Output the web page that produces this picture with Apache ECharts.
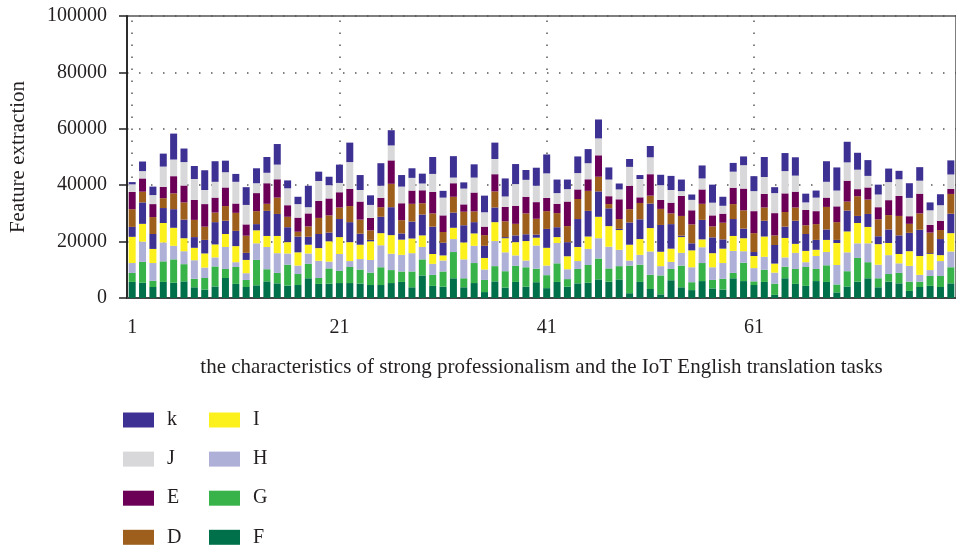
<!DOCTYPE html>
<html>
<head>
<meta charset="utf-8">
<script src="https://cdn.jsdelivr.net/npm/echarts@6/dist/echarts.min.js"></script>
<style>
html,body{margin:0;padding:0;background:#fff;}
#chart{width:956px;height:548px;}
</style>
</head>
<body>
<div id="chart"></div>
<script>
// categories 1..80
const categories = Array.from({length: 80}, (_, i) => String(i + 1));
const vLineIdx = [0, 20, 40, 60];

// stacked segments, bottom to top
const F = [5700,5400,3900,5700,5400,5900,3800,3000,4100,7100, 5000,3900,4500,5900,5200,4400,4600,7000,5000,5100,
           5300,5300,5100,4600,4600,5300,5700,3800,8000,4300, 4000,7000,3800,5300,2100,5900,3700,5700,4000,5600,
           3500,5700,4000,5200,5400,6600,5800,6600,1700,5700, 3200,1300,6300,3800,2800,6000,3400,3000,7000,6000,
           4600,5700,1100,7000,5000,4300,6000,5700,2000,4100, 5800,7000,3800,5800,5200,2500,3900,4300,3900,5200];
const G = [3200,7400,2200,7300,8300,6100,3000,4100,7100,3200, 6000,2500,9000,4300,3700,7400,3900,5100,2100,5400,
           4300,5700,5000,4400,6300,4600,3700,5600,5700,3900, 5400,9300,3200,7100,4300,5400,5800,5700,6900,4800,
           4600,6600,2700,5100,6300,7400,4700,4700,9800,6100, 5000,6700,4000,7700,2800,6400,3000,3800,1900,6500,
           1300,4300,4000,4100,5300,6700,4300,5900,2800,5400, 8400,5700,3200,2700,3700,3300,1900,3500,3900,5700];
const H = [3500,7200,6300,6700,4800,4600,6600,3700,3200,7800, 1700,2400,5900,7900,7000,4000,3000,3700,6100,2400,
           6000,2100,3700,4500,7800,5800,5900,6500,4400,3900, 3900,4600,6700,6100,3700,8900,6700,3700,2400,8200,
           3400,7200,3500,2800,5700,7200,7700,5800,1800,3500, 8300,3300,2500,4500,5300,5600,4500,5600,7800,4100,
           4700,4600,3900,3300,5700,1700,4600,4700,6900,6700, 5200,6700,4800,6700,3400,5600,2400,2100,5300,5600];
const I = [9300,6300,5000,6900,6400,4600,4400,5000,4600,4600, 5700,4700,4600,3900,6100,4000,4700,3100,4500,7200,
           6000,6700,5100,6600,4300,6600,5400,5200,4100,3500, 1800,4000,6000,4400,4100,6700,5000,4700,6900,2800,
           6300,2100,4600,5000,4400,7600,7300,7000,5600,5600, 8300,5100,4700,5600,6000,2800,5000,5100,5300,4600,
           4300,7200,3200,6900,3200,4000,2200,4300,7800,7400, 7200,5800,7300,4300,3300,5200,6700,5700,2100,6500];
const K2 = [3500,7600,5300,5300,6600,6600,3800,4800,7900,4700, 5400,2500,2200,8900,7800,5300,5600,2800,5000,3100,
            6400,7100,3900,500,5800,9900,2200,6000,7400,9700, 4500,5400,6100,4000,4300,5200,400,2400,2400,1100,
            6700,3500,5000,9900,9100,9000,6300,400,7900,7000, 8700,9500,8700,500,2500,6900,5600,3300,6000,3400,
            1400,5600,6600,4000,8200,6000,3500,3700,1100,7400, 2500,4600,2800,4800,6600,6500,9300,300,5700,6900];
const D = [6300,3800,6000,3500,5600,6100,6100,4700,3400,5200, 6400,6100,4600,2500,5800,3700,1700,3700,5700,6100,
           4100,5700,5000,3400,3400,8300,4700,6300,4000,4700, 3800,5600,4800,3800,3800,5700,5600,4100,7400,5600,
           6300,5000,5700,7100,7100,5200,1500,3500,4700,5800, 2800,5700,3800,7000,6700,5700,3900,5900,5300,6500,
           6700,4700,3400,5200,4700,3100,5600,8000,6300,3200, 7000,5100,6000,5100,6900,3200,5800,7300,3200,7000];
const E = [6100,4700,4600,4000,6100,6000,7100,8000,5300,6600, 3300,4000,6400,7300,6500,4100,5000,4600,6000,6000,
           5400,6100,6400,4400,3300,8300,6000,4700,4600,7600, 5900,4800,2600,6700,3000,6100,5100,6400,5900,5900,
           4700,3300,8700,3400,4100,7600,2800,7000,8300,2000, 7600,3200,3800,7100,5000,5100,3900,3200,5800,7700,
           7800,4800,7900,6600,5600,5400,4600,3300,5600,7400, 2500,4300,4300,5300,7100,2700,7000,2700,3200,1800];
const J = [2700,2600,3200,7200,5900,8300,7400,5000,5600,5400, 7700,6900,3500,3700,5200,6000,4800,2200,7100,4700,
           3300,9500,4100,4600,4300,5300,5900,4500,2400,6400, 6300,2000,5600,5300,5100,5400,3700,7700,6000,5800,
           8700,3800,4400,5800,5700,6000,5900,3500,6700,6500, 6000,5200,4500,1700,3700,3900,4500,2800,5700,8300,
           7100,6000,7100,7900,5700,2700,4800,5600,5600,6500, 6900,4100,4500,6400,5900,6500,4600,5200,5600,5100];
const k = [800,3400,3000,4600,9200,4800,4600,7000,7300,4100, 2800,6300,5300,5600,7300,2800,2600,7600,3300,3000,
           6500,6900,5300,3400,8000,5400,4100,3400,3500,6000, 2400,7600,2200,4700,5900,5800,6400,7100,3500,6400,
           6700,4800,3400,5900,5000,6700,4300,2100,2800,1400, 4000,3700,5000,4100,1900,4600,6400,3200,3100,3100,
           5300,7100,2100,6400,6500,3100,2500,7300,8200,7300, 6000,5600,3500,4800,3000,5200,4800,2800,3900,5000];

const seriesDefs = [
  {name: 'F', data: F, color: '#00704a'},
  {name: 'G', data: G, color: '#37b34a'},
  {name: 'H', data: H, color: '#aeb0d8'},
  {name: 'I', data: I, color: '#fcf01d'},
  {name: 'K2', data: K2, color: '#3d3193'},
  {name: 'D', data: D, color: '#9e5f1d'},
  {name: 'E', data: E, color: '#6b0056'},
  {name: 'J', data: J, color: '#d8d8da'},
  {name: 'k', data: k, color: '#3d3193'}
];

const FONT = 'Liberation Serif';
const TXT = '#231f20';

const series = seriesDefs.map((s, idx) => ({
  name: s.name,
  type: 'bar',
  stack: 'total',
  data: s.data,
  barWidth: 7,
  itemStyle: {color: s.color},
  emphasis: {disabled: true},
  markLine: idx === 0 ? {
    silent: true,
    symbol: 'none',
    z: 1,
    label: {show: false},
    lineStyle: {type: [1.5, 10.5], color: '#555', width: 1.5},
    data: vLineIdx.map(v => ({xAxis: v}))
  } : undefined
}));

const legendText = {fontFamily: FONT, fontSize: 20, color: TXT, padding: [0, 0, 0, 8], lineHeight: 15};
const legendBase = {orient: 'vertical', top: 410, height: 200, padding: 0, itemWidth: 31, itemHeight: 15,
                    itemGap: 19.1, icon: 'rect', textStyle: legendText, selectedMode: false};

const chart = echarts.init(document.getElementById('chart'), null, {renderer: 'canvas'});
chart.setOption({
  animation: false,
  backgroundColor: '#fff',
  grid: {left: 125, top: 16, width: 834, bottom: 250, show: true, borderColor: '#555', borderWidth: 1.5, backgroundColor: 'transparent'},
  legend: [
    Object.assign({left: 123, data: ['k', 'J', 'E', 'D']}, legendBase),
    Object.assign({left: 209, data: ['I', 'H', 'G', 'F']}, legendBase)
  ],
  xAxis: {
    type: 'category',
    data: categories,
    name: 'the characteristics of strong professionalism and the IoT English translation tasks',
    nameLocation: 'middle',
    nameGap: 59,
    nameTextStyle: {fontFamily: FONT, fontSize: 21, color: TXT},
    axisLine: {lineStyle: {color: '#444', width: 2}},
    axisTick: {alignWithLabel: true, interval: (i) => i % 20 === 0, length: 6, lineStyle: {color: '#222', width: 1.5}},
    axisLabel: {interval: (i) => i % 20 === 0, margin: 20, fontFamily: FONT, fontSize: 20, color: TXT},
    splitLine: {show: false}
  },
  yAxis: {
    type: 'value',
    min: 0, max: 100000, interval: 20000,
    name: 'Feature extraction',
    nameLocation: 'middle',
    nameGap: 98,
    nameTextStyle: {fontFamily: FONT, fontSize: 21, color: TXT},
    axisLine: {show: true, lineStyle: {color: '#111', width: 1.5}},
    axisTick: {show: true, length: 8, lineStyle: {color: '#222', width: 1.5}},
    axisLabel: {margin: 20, fontFamily: FONT, fontSize: 20, color: TXT, formatter: (v) => String(v)},
    splitLine: {show: true, lineStyle: {type: [1.5, 10.5], color: '#555', width: 1.5}}
  },
  series: series
});
</script>
</body>
</html>
